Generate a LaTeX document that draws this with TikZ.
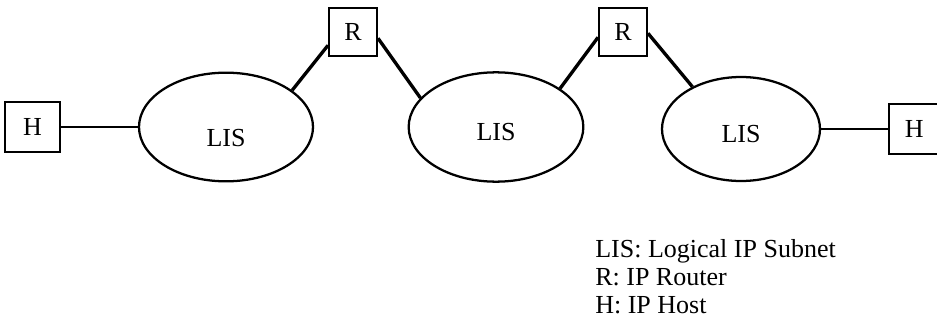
\documentclass[tikz,border=0pt]{standalone}
\usepackage{fontspec}
\setmainfont{Liberation Serif}
\usetikzlibrary{positioning, shapes.geometric}

\tikzset{
	box/.style={draw, line width=1.5pt, minimum width=41pt, minimum height=37pt, inner sep=0pt, font=\fontsize{19.5}{19.5}\selectfont},
	subnet/.style={draw, ellipse, line width=1.7pt, inner sep=0pt, text height=20.4pt, text depth=0pt, font=\fontsize{19.5}{19.5}\selectfont},
	link/.style={line width=1.6pt},
	uplink/.style={line width=2.5pt},
	key/.style={anchor=base west, inner sep=0pt, font=\fontsize{19.5}{19.5}\selectfont},
}

\begin{document}
\begin{tikzpicture}[x=0.75pt, y=-0.75pt]
	\useasboundingbox (0,0) rectangle (937,321);
	\clip (0,0) rectangle (937,321);

	% the three subnets
	\node[subnet, minimum width=130.5pt, minimum height=81.5pt, text height=29.4pt] (lis1) at (226,127) {LIS};
	\node[subnet, minimum width=131pt, minimum height=82pt] (lis2) at (496,127) {LIS};
	\node[subnet, minimum width=118.5pt, minimum height=78pt] (lis3) at (741,129) {LIS};

	% hosts and routers
	\node[box, left=57.75pt of lis1] (h1) {H};
	\node[box, right=50pt of lis3, minimum width=46pt] (h2) {\hspace*{-8pt}H};
	\node[box, minimum width=36pt, minimum height=36pt] (r1) at (353,32) {R};
	\node[box, minimum width=36pt, minimum height=36pt] (r2) at (623,32) {R};

	\draw[link] (h1.east) -- (lis1.west);
	\draw[link] (lis3.east) -- (h2.west);

	\draw[uplink] (lis1.29) -- (r1.208);
	\draw[uplink] (r1.-14) -- (lis2.159);
	\draw[uplink] (lis2.31) -- (r2.192);
	\draw[uplink] (r2.-3) -- (lis3.139);

	% legend
	\node[key] (k1) at (595,257) {LIS: Logical IP Subnet};
	\node[key] (k2) at (595,285) {R: IP Router};
	\node[key] (k3) at (595,313) {H: IP Host};
\end{tikzpicture}
\end{document}
